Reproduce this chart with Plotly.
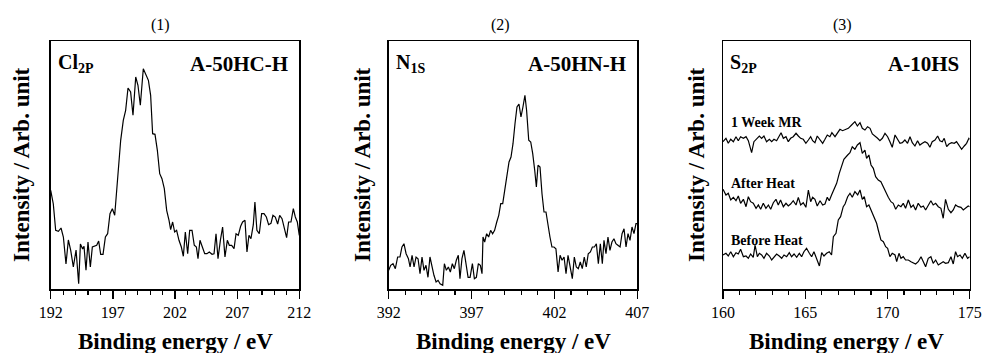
import plotly.graph_objects as go

W, H = 983, 353

# ---------------- data ----------------
cl_energy = [
    192.00, 192.21, 192.40, 192.62, 192.83, 193.02, 193.23, 193.42, 193.61, 193.82,
    194.04, 194.25, 194.39, 194.57, 194.68, 194.84, 195.00, 195.19, 195.35, 195.51,
    195.70, 195.86, 196.02, 196.21, 196.40, 196.58, 196.77, 196.96, 197.15, 197.31,
    197.44, 197.63, 197.84, 198.03, 198.22, 198.43, 198.62, 198.84, 199.02, 199.21,
    199.45, 199.67, 199.86, 200.04, 200.20, 200.39, 200.58, 200.77, 200.95, 201.14,
    201.33, 201.52, 201.65, 201.81, 201.97, 202.13, 202.32, 202.51, 202.67, 202.83,
    203.02, 203.18, 203.37, 203.55, 203.72, 203.85, 204.01, 204.20, 204.39, 204.57,
    204.76, 204.98, 205.14, 205.30, 205.46, 205.65, 205.83, 206.02, 206.21, 206.37,
    206.56, 206.75, 206.91, 207.09, 207.28, 207.44, 207.63, 207.79, 207.95, 208.11,
    208.30, 208.43, 208.59, 208.78, 208.97, 209.16, 209.35, 209.53, 209.72, 209.88,
    210.07, 210.26, 210.42, 210.61, 210.79, 210.98, 211.14, 211.33, 211.52, 211.68,
    211.84, 212.00]
cl_intensity = [
    98.7, 85, 58.7, 57.7, 61, 52, 25, 49, 38.7, 22,
    39, 5.3, 45, 40, 42.7, 18.7, 47, 22, 42, 43,
    43.7, 48, 34.7, 34.7, 52, 55.3, 75.3, 80.3, 73.7, 98.7,
    122, 148.7, 168.7, 178.7, 201, 197, 173.7, 212, 203.7, 183.7,
    220.3, 213.7, 208.7, 193.7, 155.3, 154.7, 138.7, 115.3, 110.3, 100.3,
    78.7, 68.7, 59.3, 67, 57, 58.7, 48.7, 42, 32.7, 57,
    35.3, 58.7, 58.7, 43.7, 42, 30.3, 48.7, 42, 35.3, 35.3,
    37, 34.7, 35.3, 55.3, 30.3, 48.7, 62, 32, 48.7, 43.7,
    43.7, 40.3, 55.3, 53.7, 62.7, 67, 68.7, 37, 53.7, 50.3,
    64.3, 87, 58.7, 55.3, 75.3, 75.3, 72, 64.3, 65.7, 73.7,
    72, 65, 73.7, 70.3, 60.3, 51.3, 67, 67, 80.3, 72,
    67, 53.7]

n_energy = [
    392.00, 392.12, 392.26, 392.40, 392.54, 392.68, 392.80, 392.92, 393.05, 393.19,
    393.29, 393.41, 393.53, 393.65, 393.77, 393.89, 394.01, 394.13, 394.25, 394.37,
    394.49, 394.61, 394.73, 394.86, 394.98, 395.10, 395.26, 395.36, 395.48, 395.60,
    395.72, 395.84, 395.96, 396.08, 396.20, 396.30, 396.42, 396.54, 396.67, 396.79,
    396.91, 397.05, 397.17, 397.29, 397.41, 397.53, 397.63, 397.69, 397.79, 397.91,
    398.03, 398.15, 398.27, 398.39, 398.52, 398.64, 398.76, 398.88, 399.00, 399.12,
    399.26, 399.38, 399.50, 399.62, 399.74, 399.86, 399.98, 400.10, 400.22, 400.32,
    400.45, 400.57, 400.69, 400.81, 400.91, 401.01, 401.13, 401.25, 401.37, 401.49,
    401.61, 401.73, 401.85, 401.97, 402.09, 402.22, 402.34, 402.46, 402.58, 402.70,
    402.82, 402.94, 403.08, 403.20, 403.32, 403.44, 403.56, 403.68, 403.80, 403.92,
    404.04, 404.17, 404.29, 404.41, 404.53, 404.65, 404.77, 404.89, 404.99, 405.11,
    405.23, 405.35, 405.47, 405.59, 405.71, 405.83, 405.96, 406.08, 406.20, 406.32,
    406.44, 406.56, 406.68, 406.80, 406.92, 407.00]
n_intensity = [
    18.7, 23.7, 25.3, 20.3, 32, 32, 42, 45.3, 35.3, 30.3,
    22, 33.7, 22, 32, 30.3, 15.3, 32, 18.7, 23.7, 11.7,
    32, 22, 13.7, 7, 8.7, 5.3, 3.7, 25.3, 18.7, 22,
    17, 25.3, 20.3, 28.7, 33.7, 10.3, 30.3, 38.7, 22, 11.7,
    11.7, 25.3, 10.3, 11.7, 25.3, 23.7, 15.3, 52, 47, 55.3,
    52, 58.7, 55.3, 58.7, 67, 73.7, 85.3, 85.3, 98.7, 113.7,
    127, 132, 145.3, 165.3, 182, 185, 172, 182, 193.7, 178.7,
    148.7, 147, 135.3, 118.7, 102, 123.7, 122, 95.3, 77, 77,
    62, 52, 42, 42, 40.3, 17, 33.7, 28.7, 32, 15.3,
    33.7, 22, 10.3, 32, 22, 20.3, 27, 20.3, 32, 22,
    35.3, 37, 42, 42, 45.3, 25.3, 45.3, 25.3, 48.7, 35.3,
    52, 38.7, 47, 50.3, 45.3, 43.7, 42, 55.3, 60.3, 42,
    55.3, 48.7, 62, 55.3, 65.3, 65.3]

s_mr_energy = [
    160.00, 160.18, 160.32, 160.47, 160.63, 160.79, 160.93, 161.07, 161.24, 161.40,
    161.54, 161.74, 161.88, 162.05, 162.21, 162.35, 162.49, 162.65, 162.82, 162.96,
    163.10, 163.26, 163.42, 163.53, 163.67, 163.83, 163.97, 164.11, 164.27, 164.44,
    164.58, 164.72, 164.88, 165.04, 165.19, 165.33, 165.45, 165.59, 165.73, 165.90,
    166.06, 166.20, 166.34, 166.50, 166.62, 166.81, 166.95, 167.11, 167.27, 167.42,
    167.62, 167.82, 168.02, 168.17, 168.33, 168.47, 168.63, 168.79, 168.94, 169.08,
    169.24, 169.40, 169.54, 169.69, 169.85, 170.01, 170.15, 170.29, 170.46, 170.62,
    170.76, 170.90, 171.06, 171.22, 171.37, 171.51, 171.67, 171.83, 171.97, 172.12,
    172.28, 172.44, 172.58, 172.72, 172.89, 173.05, 173.19, 173.33, 173.45, 173.60,
    173.74, 173.90, 174.06, 174.20, 174.34, 174.51, 174.67, 174.81, 174.95, 175.00]
s_mr_intensity = [
    147.3, 150.7, 145.7, 149.7, 147.3, 152.3, 148.3, 152.3, 150.7, 152.3,
    148.3, 136.3, 147.3, 150.7, 153, 150.7, 153, 147.3, 149.7, 147.3,
    149.7, 148.3, 152.3, 156.3, 150.7, 152.3, 147.3, 150.7, 152.3, 155.7,
    153, 150.7, 149.7, 145.7, 149, 152.3, 148.3, 146.3, 153, 149.7,
    145.7, 149.7, 154, 152.3, 156.3, 152.3, 155.7, 159.7, 158.3, 159,
    160.7, 164, 167.3, 163, 166.3, 160.7, 159, 162.3, 160.7, 155,
    153, 150.7, 148.3, 150.7, 155.7, 152.3, 147.3, 141.7, 154, 149,
    145.7, 146.3, 149, 145.7, 152.3, 146.3, 143, 148.3, 144, 145.7,
    147.3, 145.7, 141.7, 147.3, 149, 153, 148.3, 147.3, 150.7, 142.3,
    145, 146.3, 145.7, 147.3, 144, 139.7, 143, 145.7, 150.7, 149.7]

s_after_energy = [
    160.00, 160.18, 160.32, 160.47, 160.63, 160.79, 160.93, 161.07, 161.24, 161.40,
    161.54, 161.68, 161.84, 162.01, 162.15, 162.29, 162.45, 162.61, 162.76, 162.90,
    163.06, 163.22, 163.36, 163.50, 163.67, 163.83, 163.97, 164.11, 164.27, 164.44,
    164.58, 164.72, 164.88, 165.04, 165.19, 165.33, 165.45, 165.59, 165.73, 165.90,
    166.06, 166.20, 166.34, 166.46, 166.60, 166.75, 166.91, 167.07, 167.21, 167.35,
    167.58, 167.72, 167.86, 168.02, 168.17, 168.33, 168.47, 168.63, 168.73, 168.87,
    169.00, 169.14, 169.28, 169.44, 169.60, 169.75, 169.89, 170.05, 170.21, 170.35,
    170.50, 170.66, 170.82, 170.96, 171.10, 171.27, 171.43, 171.57, 171.71, 171.87,
    172.04, 172.18, 172.32, 172.48, 172.64, 172.78, 172.93, 173.09, 173.25, 173.39,
    173.53, 173.70, 173.86, 174.00, 174.14, 174.30, 174.47, 174.61, 174.75, 174.91,
    175.00]
s_after_intensity = [
    99.7, 94, 95.7, 89, 91.7, 88.3, 93, 85.7, 89.7, 82.3,
    92.3, 87.3, 85.7, 80.7, 84, 79.7, 85.7, 80.7, 84, 79.7,
    86.3, 89.7, 84, 89, 82.3, 85.7, 83, 85, 88.3, 84,
    91.7, 84, 86.3, 81.7, 99, 87.3, 91.7, 89.7, 83, 88.3,
    84, 85, 91.7, 88.3, 94, 99.7, 105.7, 115.7, 122.3, 129.7,
    134, 136.3, 142.3, 139.7, 144, 146.3, 135.7, 139, 130.7, 134,
    124, 120.7, 112.3, 109, 107.3, 101.7, 97.3, 91.7, 87.3, 85.7,
    79.7, 84, 82.3, 85.7, 80.7, 89, 81.7, 84, 79, 85.7,
    81.7, 83, 79, 84, 88.3, 84, 85.7, 82.3, 80.7, 70.7,
    89.7, 79.7, 76.3, 79, 84, 82.3, 81.7, 79, 80.7, 83,
    82.3]

s_before_energy = [
    160.00, 160.18, 160.32, 160.47, 160.63, 160.79, 160.93, 161.07, 161.24, 161.40,
    161.54, 161.68, 161.84, 161.95, 162.09, 162.21, 162.35, 162.49, 162.65, 162.82,
    162.96, 163.10, 163.26, 163.42, 163.57, 163.71, 163.87, 164.03, 164.17, 164.32,
    164.48, 164.64, 164.78, 164.92, 165.08, 165.25, 165.39, 165.53, 165.69, 165.86,
    166.00, 166.14, 166.30, 166.46, 166.60, 166.71, 166.87, 167.01, 167.15, 167.31,
    167.42, 167.58, 167.72, 167.86, 168.02, 168.19, 168.33, 168.47, 168.59, 168.73,
    168.87, 169.04, 169.20, 169.34, 169.44, 169.60, 169.75, 169.89, 170.01, 170.15,
    170.29, 170.46, 170.56, 170.70, 170.82, 170.96, 171.10, 171.27, 171.43, 171.57,
    171.71, 171.87, 172.04, 172.18, 172.32, 172.48, 172.64, 172.78, 172.93, 173.09,
    173.25, 173.39, 173.53, 173.70, 173.86, 174.00, 174.14, 174.26, 174.41, 174.55,
    174.71, 174.87, 175.00]
s_before_intensity = [
    34, 35.7, 33, 37.3, 32.3, 36.3, 35, 39.7, 32.3, 33,
    30.7, 35, 31.7, 44, 32.3, 35.7, 34, 30.7, 35.7, 33,
    29, 32.3, 35, 33, 30.7, 34, 32.3, 36.3, 32.3, 35,
    31.7, 35.7, 32.3, 37.3, 40.7, 35.7, 32.3, 37.3, 30.7, 23,
    36.3, 33, 35.7, 37.3, 34, 52.3, 55.7, 69, 72.3, 82.3,
    85, 92.3, 95.7, 91.7, 97.3, 94, 99, 89.7, 92.3, 82.3,
    84, 77.3, 72.3, 65.7, 59, 49, 47.3, 42.3, 40.7, 32.3,
    35.7, 34, 27.3, 35.7, 30.7, 32.3, 29, 29, 27.3, 25.7,
    25, 27.3, 32.3, 27.3, 22.3, 30.7, 32.3, 25.7, 29, 24,
    25.7, 27.3, 25.7, 26.3, 32.3, 25, 37.3, 32.3, 34, 30.7,
    35.7, 30.7, 32.3]

panel_titles = ["(1)", "(2)", "(3)"]
x_ranges = [[192, 212], [392, 407], [160, 175]]
core_labels = ["Cl<sub>2P</sub>", "N<sub>1S</sub>", "S<sub>2P</sub>"]
sample_labels = ["A-50HC-H", "A-50HN-H", "A-10HS"]
curve_labels = ["1 Week MR", "After Heat", "Before Heat"]
x_title = "Binding energy / eV"
y_title = "Intensity / Arb. unit"

# ---------------- layout geometry (window pixels) ----------------
FONT = "Liberation Serif, Times New Roman, serif"
plot_px = [(50.7, 299.3), (388.7, 637.3), (723.0, 969.7)]
top_px, bot_px = 41.0, 289.0
title_x_px = [160, 500, 842]
ytitle_x_px = [22, 363, 697]


def px(x):
    return x / W


def py(y):
    return 1 - y / H


fig = go.Figure()

series = [
    [(cl_energy, cl_intensity)],
    [(n_energy, n_intensity)],
    [(s_mr_energy, s_mr_intensity), (s_after_energy, s_after_intensity),
     (s_before_energy, s_before_intensity)],
]

for i, group in enumerate(series):
    xa = "x" if i == 0 else f"x{i + 1}"
    ya = "y" if i == 0 else f"y{i + 1}"
    for ex, iy in group:
        fig.add_trace(go.Scatter(x=ex, y=iy, mode="lines", xaxis=xa, yaxis=ya,
                                 line=dict(color="black", width=1.2),
                                 showlegend=False, hoverinfo="skip"))

annotations = []
for i in range(3):
    l, r = plot_px[i]
    key = "" if i == 0 else str(i + 1)
    fig.layout["xaxis" + key] = dict(
        domain=[px(l), px(r)], range=x_ranges[i], anchor="y" + key, automargin=False,
        tick0=x_ranges[i][0], dtick=5, ticks="outside", ticklen=8, tickwidth=1.3,
        tickcolor="black",
        minor=dict(dtick=1, ticks="outside", ticklen=4, tickwidth=1.2, tickcolor="black"),
        showline=True, mirror=True, linecolor="black", linewidth=1.5,
        showgrid=False, zeroline=False, fixedrange=True,
        tickfont=dict(family=FONT, size=16, color="black"),
    )
    fig.layout["yaxis" + key] = dict(
        domain=[py(bot_px), py(top_px)], range=[0, 248], anchor="x" + key, automargin=False,
        showticklabels=False, ticks="", showline=True, mirror=True, fixedrange=True,
        linecolor="black", linewidth=1.5, showgrid=False, zeroline=False,
    )
    cx = (l + r) / 2
    annotations += [
        dict(text=panel_titles[i], x=px(title_x_px[i]), y=py(25), xref="paper", yref="paper",
             showarrow=False, xanchor="center", yanchor="middle",
             font=dict(family=FONT, size=16, color="black")),
        dict(text=f"<b>{x_title}</b>", x=px(cx), y=py(341), xref="paper", yref="paper",
             showarrow=False, xanchor="center", yanchor="middle",
             font=dict(family=FONT, size=23, color="black")),
        dict(text=f"<b>{y_title}</b>", x=px(ytitle_x_px[i]), y=py(165), xref="paper",
             yref="paper", showarrow=False, xanchor="center", yanchor="middle", textangle=-90,
             font=dict(family=FONT, size=23, color="black")),
        dict(text=f"<b>{core_labels[i]}</b>", x=px(l + 5), y=py(64), xref="paper", yref="paper",
             showarrow=False, xanchor="left", yanchor="middle",
             font=dict(family=FONT, size=20, color="black")),
        dict(text=f"<b>{sample_labels[i]}</b>", x=px(r - 9), y=py(64), xref="paper",
             yref="paper", showarrow=False, xanchor="right", yanchor="middle",
             font=dict(family=FONT, size=21, color="black")),
    ]

for lab, ypix in zip(curve_labels, [122, 183, 240]):
    annotations.append(dict(text=f"<b>{lab}</b>", x=px(729), y=py(ypix), xref="paper",
                            yref="paper", showarrow=False, xanchor="left", yanchor="middle",
                            font=dict(family=FONT, size=14, color="black")))

fig.update_layout(
    width=W, height=H, margin=dict(l=0, r=0, t=0, b=0, pad=0), autosize=False,
    paper_bgcolor="white", plot_bgcolor="white",
    annotations=annotations, showlegend=False,
)

# remove the default 8px page margin so the figure fills the window exactly
fig.write_html(
    "out.html",
    config={"displayModeBar": False, "staticPlot": True},
    post_script="document.body.style.margin='0';document.body.style.overflow='hidden';",
)
